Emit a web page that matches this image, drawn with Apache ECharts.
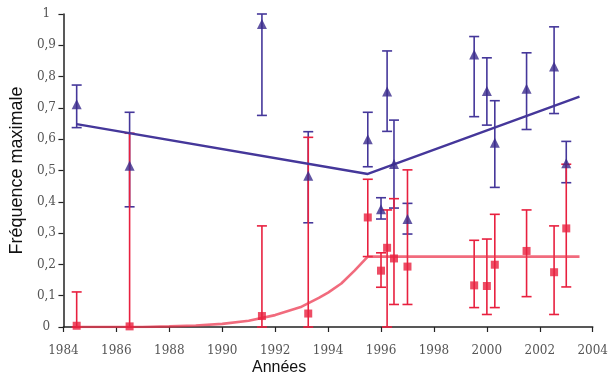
<!DOCTYPE html>
<html><head><meta charset="utf-8">
<script src="https://cdn.jsdelivr.net/npm/echarts@6/dist/echarts.min.js"></script>
<style>html,body{margin:0;padding:0;background:#fff}#c{width:611px;height:381px}</style>
</head><body><div id="c"></div>
<script>
// Blue (triangles): year, value, low, high
const blueYears = [1984.5, 1986.5, 1991.5, 1993.25, 1995.5, 1996.0, 1996.23, 1996.49, 1997.0, 1999.52, 2000.0, 2000.3, 2001.5, 2002.54, 2003.0];
const blueValues = [0.712, 0.515, 0.968, 0.483, 0.600, 0.376, 0.752, 0.521, 0.345, 0.871, 0.754, 0.589, 0.761, 0.832, 0.523];
const blueLow   = [0.637, 0.384, 0.676, 0.333, 0.512, 0.345, 0.625, 0.380, 0.297, 0.672, 0.645, 0.446, 0.631, 0.682, 0.461];
const blueHigh  = [0.773, 0.686, 1.000, 0.624, 0.686, 0.413, 0.882, 0.661, 0.395, 0.928, 0.860, 0.723, 0.876, 0.959, 0.593];

// Red (squares): year, value, low, high
const redYears = [1984.5, 1986.5, 1991.5, 1993.25, 1995.5, 1996.0, 1996.23, 1996.49, 1997.0, 1999.52, 2000.0, 2000.3, 2001.5, 2002.54, 2003.0];
const redValues = [0.004, 0.002, 0.035, 0.043, 0.350, 0.180, 0.253, 0.219, 0.193, 0.133, 0.131, 0.199, 0.243, 0.175, 0.315];
const redLow    = [0.000, 0.000, 0.000, 0.000, 0.225, 0.127, 0.000, 0.072, 0.072, 0.062, 0.040, 0.062, 0.097, 0.040, 0.128];
const redHigh   = [0.112, 0.619, 0.323, 0.606, 0.472, 0.237, 0.374, 0.410, 0.502, 0.277, 0.281, 0.360, 0.374, 0.323, 0.520];

// Fitted curves
const blueFitYears = [1984.5, 1995.5, 2003.5];
const blueFitValues = [0.648, 0.489, 0.736];
const redFitYears = [1984.5, 1987, 1988, 1989, 1990, 1991, 1992, 1993, 1993.65, 1994, 1994.5, 1995, 1995.5, 2003.5];
const redFitValues = [0.0, 0.0, 0.002, 0.005, 0.01, 0.02, 0.038, 0.065, 0.093, 0.11, 0.139, 0.18, 0.225, 0.225];

const xTicks = [1984, 1986, 1988, 1990, 1992, 1994, 1996, 1998, 2000, 2002, 2004];

const BLUE = '#45379a', BLUE_D = '#3a2b8c', RED = '#e8203f';

function zip2(a, b) { return a.map((v, i) => [v, b[i]]); }
function errData(x, lo, hi) { return x.map((v, i) => [v, lo[i], hi[i]]); }
function errSeries(data, color, z) {
  return {
    type: 'custom', z: z, silent: true,
    data: data,
    encode: { x: 0, y: [1, 2] },
    renderItem: function (params, api) {
      const x = api.value(0);
      const top = api.coord([x, api.value(2)]);
      const bot = api.coord([x, api.value(1)]);
      const w = 5;
      const st = { stroke: color, lineWidth: 1.6 };
      return { type: 'group', children: [
        { type: 'line', shape: { x1: top[0], y1: top[1], x2: bot[0], y2: bot[1] }, style: st },
        { type: 'line', shape: { x1: top[0] - w, y1: top[1], x2: top[0] + w, y2: top[1] }, style: st },
        { type: 'line', shape: { x1: bot[0] - w, y1: bot[1], x2: bot[0] + w, y2: bot[1] }, style: st }
      ]};
    }
  };
}

const chart = echarts.init(document.getElementById('c'), null, { renderer: 'canvas' });
chart.setOption({
  animation: false,
  backgroundColor: '#fff',
  grid: { left: 61, right: 13, top: 14, bottom: 54, containLabel: false },
  xAxis: {
    type: 'value', min: 1984, max: 2004, interval: 2,
    axisLine: { show: true, onZero: false, lineStyle: { color: '#222', width: 1.5 } },
    axisTick: { show: true, length: 5, lineStyle: { color: '#222', width: 1.2 } },
    axisLabel: { color: '#555', fontFamily: 'DejaVu Serif', fontSize: 12, margin: 18, formatter: v => String(v) },
    splitLine: { show: false }
  },
  yAxis: {
    type: 'value', min: 0, max: 1, interval: 0.1,
    name: 'Fréquence maximale', nameLocation: 'middle', nameGap: 30,
    nameTextStyle: { color: '#111', fontFamily: 'Liberation Sans', fontSize: 18 },
    axisLine: { show: true, lineStyle: { color: '#222', width: 1.5 } },
    axisTick: { show: true, length: 5, lineStyle: { color: '#222', width: 1.2 } },
    axisLabel: { color: '#555', fontFamily: 'DejaVu Serif', fontSize: 12, margin: 17, align: 'center',
      formatter: v => (Math.round(v * 10) / 10).toString().replace('.', ',') },
    splitLine: { show: false }
  },
  graphic: [{
    type: 'text', left: 252, top: 360,
    style: { text: 'Années', fill: '#111', font: '16px "Liberation Sans"' }
  }],
  series: [
    errSeries(errData(blueYears, blueLow, blueHigh), BLUE, 2),
    errSeries(errData(redYears, redLow, redHigh), RED, 3),
    { type: 'line', z: 4, data: zip2(blueFitYears, blueFitValues), symbol: 'none', silent: true,
      lineStyle: { color: BLUE, width: 2.4 } },
    { type: 'line', z: 4, data: zip2(redFitYears, redFitValues), symbol: 'none', smooth: false, silent: true,
      lineStyle: { color: 'rgba(236,50,75,0.72)', width: 2.6 } },
    { type: 'scatter', z: 5, data: zip2(blueYears, blueValues), symbol: 'triangle', symbolSize: [10, 10],
      itemStyle: { color: BLUE_D }, silent: true },
    { type: 'scatter', z: 5, data: zip2(redYears, redValues), symbol: 'rect', symbolSize: 8,
      itemStyle: { color: RED }, silent: true }
  ]
});
</script></body></html>
